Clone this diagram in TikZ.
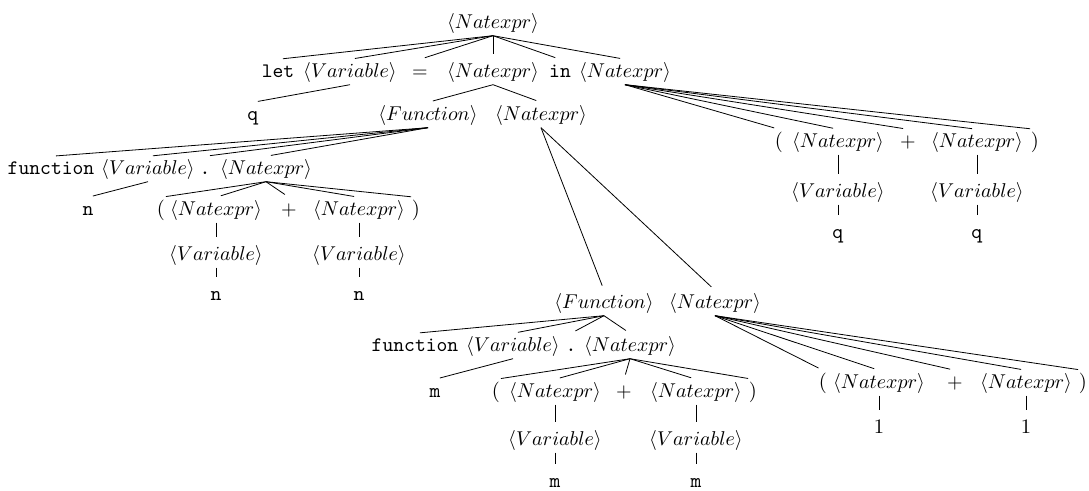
\documentclass[tikz,border=0pt]{standalone}
\usepackage{pgf,tikz}
\newcommand{\nterm}[1]{$\langle #1\rangle$}

\begin{document}
\begin{tikzpicture}[x=0.5pt,y=-0.5pt,shorten >=2.5pt,
	every node/.style={font=\fontsize{10.3}{12.5}\selectfont,inner sep=1pt,text height=7.7pt,text depth=2.6pt}]
	\useasboundingbox (0,0) rectangle (1089,491);
	\draw node (root) at (493,23) {\nterm{Natexpr}};
	\draw node (let) at (278,72) {\texttt{let}};
	\draw node (var1) at (350,72) {\nterm{Variable}};
	\draw node (eq1) at (420,72) {$=$};
	\draw node (nat1) at (493,72) {\nterm{Natexpr}};
	\draw node (in1) at (560,72) {\texttt{in}};
	\draw node (nat2) at (625,72) {\nterm{Natexpr}};
	\draw node (q1) at (253,115) {\texttt{q}};
	\draw node (fun1) at (428,115) {\nterm{Function}};
	\draw node (nat3) at (541,115) {\nterm{Natexpr}};
	\draw node (lp1) at (779,142) {(};
	\draw node (nat4) at (838,142) {\nterm{Natexpr}};
	\draw node (plus1) at (908,142) {$+$};
	\draw node (nat5) at (977,142) {\nterm{Natexpr}};
	\draw node (rp1) at (1035,142) {)};
	\draw node (var3) at (838,192) {\nterm{Variable}};
	\draw node (var4) at (977,192) {\nterm{Variable}};
	\draw node (q2) at (838,233) {\texttt{q}};
	\draw node (q3) at (977,233) {\texttt{q}};
	\draw node (func1) at (51,169) {\texttt{function}};
	\draw node (var2) at (148,169) {\nterm{Variable}};
	\draw node (dot1) at (205,169) {\texttt{.}};
	\draw node (nat6) at (266,169) {\nterm{Natexpr}};
	\draw node (n1) at (88,210) {\texttt{n}};
	\draw node (lp2) at (161,210) {(};
	\draw node (nat7) at (216,210) {\nterm{Natexpr}};
	\draw node (plus2) at (289,210) {$+$};
	\draw node (nat8) at (359,210) {\nterm{Natexpr}};
	\draw node (rp2) at (416,210) {)};
	\draw node (var5) at (216,255) {\nterm{Variable}};
	\draw node (var6) at (359,255) {\nterm{Variable}};
	\draw node (n2) at (216,295) {\texttt{n}};
	\draw node (n3) at (359,295) {\texttt{n}};
	\draw node (fun2) at (604,303) {\nterm{Function}};
	\draw node (nat9) at (715,303) {\nterm{Natexpr}};
	\draw node (func2) at (415,346) {\texttt{function}};
	\draw node (var7) at (513,346) {\nterm{Variable}};
	\draw node (dot2) at (571,346) {\texttt{.}};
	\draw node (nat10) at (630,346) {\nterm{Natexpr}};
	\draw node (m1) at (435,392) {\texttt{m}};
	\draw node (lp3) at (496,392) {(};
	\draw node (nat11) at (555,392) {\nterm{Natexpr}};
	\draw node (plus3) at (624,392) {$+$};
	\draw node (nat12) at (696,392) {\nterm{Natexpr}};
	\draw node (rp3) at (753,392) {)};
	\draw node (var8) at (555,440) {\nterm{Variable}};
	\draw node (var9) at (696,440) {\nterm{Variable}};
	\draw node (m2) at (555,482) {\texttt{m}};
	\draw node (m3) at (696,482) {\texttt{m}};
	\draw node (lp4) at (823,383) {(};
	\draw node (nat13) at (879,383) {\nterm{Natexpr}};
	\draw node (plus4) at (955,383) {$+$};
	\draw node (nat14) at (1026,383) {\nterm{Natexpr}};
	\draw node (rp4) at (1083,383) {)};
	\draw node (one1) at (879,428) {1};
	\draw node (one2) at (1026,428) {1};
	\draw (root.south)--(let.north);
	\draw (root.south)--(var1.north);
	\draw (root.south)--(eq1.north);
	\draw (root.south)--(nat1.north);
	\draw (root.south)--(in1.north);
	\draw (root.south)--(nat2.north);
	\draw (var1.south)--(q1.north);
	\draw (nat1.south)--(fun1.north);
	\draw (nat1.south)--(nat3.north);
	\draw (nat2.south)--(lp1.north);
	\draw (nat2.south)--(nat4.north);
	\draw (nat2.south)--(plus1.north);
	\draw (nat2.south)--(nat5.north);
	\draw (nat2.south)--(rp1.north);
	\draw (nat4.south)--(var3.north);
	\draw (nat5.south)--(var4.north);
	\draw (var3.south)--(q2.north);
	\draw (var4.south)--(q3.north);
	\draw (fun1.south)--(func1.north);
	\draw (fun1.south)--(var2.north);
	\draw (fun1.south)--(dot1.north);
	\draw (fun1.south)--(nat6.north);
	\draw (var2.south)--(n1.north);
	\draw (nat6.south)--(lp2.north);
	\draw (nat6.south)--(nat7.north);
	\draw (nat6.south)--(plus2.north);
	\draw (nat6.south)--(nat8.north);
	\draw (nat6.south)--(rp2.north);
	\draw (nat7.south)--(var5.north);
	\draw (nat8.south)--(var6.north);
	\draw (var5.south)--(n2.north);
	\draw (var6.south)--(n3.north);
	\draw (nat3.south)--(fun2.north);
	\draw (nat3.south)--(nat9.north);
	\draw (fun2.south)--(func2.north);
	\draw (fun2.south)--(var7.north);
	\draw (fun2.south)--(dot2.north);
	\draw (fun2.south)--(nat10.north);
	\draw (var7.south)--(m1.north);
	\draw (nat10.south)--(lp3.north);
	\draw (nat10.south)--(nat11.north);
	\draw (nat10.south)--(plus3.north);
	\draw (nat10.south)--(nat12.north);
	\draw (nat10.south)--(rp3.north);
	\draw (nat11.south)--(var8.north);
	\draw (nat12.south)--(var9.north);
	\draw (var8.south)--(m2.north);
	\draw (var9.south)--(m3.north);
	\draw (nat9.south)--(lp4.north);
	\draw (nat9.south)--(nat13.north);
	\draw (nat9.south)--(plus4.north);
	\draw (nat9.south)--(nat14.north);
	\draw (nat9.south)--(rp4.north);
	\draw (nat13.south)--(one1.north);
	\draw (nat14.south)--(one2.north);
\end{tikzpicture}
\end{document}
